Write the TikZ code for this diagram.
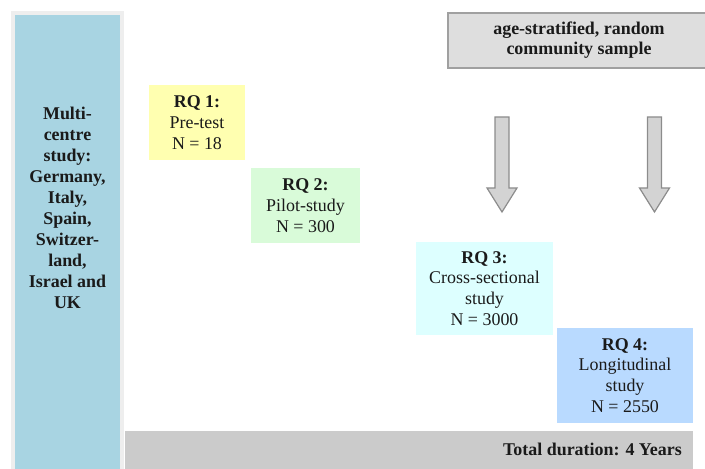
\documentclass[tikz,border=0pt]{standalone}
\usepackage{fontspec}
\setmainfont{Liberation Serif}
\definecolor{frameg}{HTML}{EEEEEE}
\definecolor{multiblue}{HTML}{A8D4E2}
\definecolor{rqyellow}{HTML}{FFFFB0}
\definecolor{rqgreen}{HTML}{D9FBD9}
\definecolor{rqcyan}{HTML}{DDFFFF}
\definecolor{rqblue}{HTML}{B9DAFF}
\definecolor{topgrey}{HTML}{DEDEDE}
\definecolor{topline}{HTML}{A0A0A0}
\definecolor{bargrey}{HTML}{CBCBCB}
\definecolor{arrowfill}{HTML}{D3D3D3}
\definecolor{arrowline}{HTML}{8C8C8C}
\definecolor{txt}{HTML}{1A1A1A}
\tikzset{
  txtfont/.style={font=\fontsize{18}{20.8}\selectfont, text=txt},
  rqbox/.style={rectangle, inner sep=0pt, txtfont, align=center},
  blockarrow/.style={fill=arrowfill, draw=arrowline, line width=1.2bp, line join=miter},
}
\begin{document}
\begin{tikzpicture}[x=1bp,y=-1bp]
\useasboundingbox (0,0) rectangle (705,469);
\clip (0,0) rectangle (705,469);
% left frame and column
\fill[frameg] (11,11) rectangle (124,470);
\node (multi) [rectangle, fill=multiblue, inner sep=0pt, minimum width=105bp, minimum height=456bp] at (67.5,243) {};
\node (multitext) [txtfont, align=center, font=\fontsize{18}{21}\selectfont\bfseries] at (67.5,208)
  {Multi-\\centre\\study:\\Germany,\\Italy,\\Spain,\\Switzer-\\land,\\Israel and\\UK};
% top box
\node (sample) [rectangle, fill=topgrey, draw=topline, line width=1.5bp, inner sep=0pt, minimum width=272bp, minimum height=55bp, anchor=west] at (447,40.5) {};
\node (sampletext) [txtfont, align=center, font=\fontsize{18}{20.5}\selectfont\bfseries] at (579,40)
  {age-stratified, random\\community sample};
% RQ boxes
\node (rq1) [rqbox, fill=rqyellow, minimum width=96bp, minimum height=75bp] at (197,122.5)
  {\textbf{RQ 1:}\\Pre-test\\N = 18};
\node (rq2) [rqbox, fill=rqgreen, minimum width=109bp, minimum height=75bp] at (305.5,205.5)
  {\textbf{RQ 2:}\\Pilot-study\\N = 300};
\node (rq3) [rqbox, fill=rqcyan, minimum width=137bp, minimum height=93bp] at (484.5,288.5)
  {\textbf{RQ 3:}\\Cross-sectional\\study\\N = 3000};
\node (rq4) [rqbox, fill=rqblue, minimum width=136bp, minimum height=95bp] at (625,375.5)
  {\textbf{RQ 4:}\\Longitudinal\\study\\N = 2550};
% block arrows
\draw[blockarrow] (495,117) -- (509,117) -- (509,188) -- (517,188) -- (502,212) -- (487,188) -- (495,188) -- cycle;
\draw[blockarrow] (647.5,117) -- (661.5,117) -- (661.5,188) -- (669.5,188) -- (654.5,212) -- (639.5,188) -- (647.5,188) -- cycle;
% bottom bar
\node (bar) [rectangle, fill=bargrey, inner sep=0pt, minimum width=568bp, minimum height=40bp, anchor=north west] at (125,431) {};
\node (bartext) [txtfont, font=\fontsize{18}{21}\selectfont\bfseries, anchor=east, inner sep=0pt] at (682,449.5) {Total duration: 4 Years};
\end{tikzpicture}
\end{document}
